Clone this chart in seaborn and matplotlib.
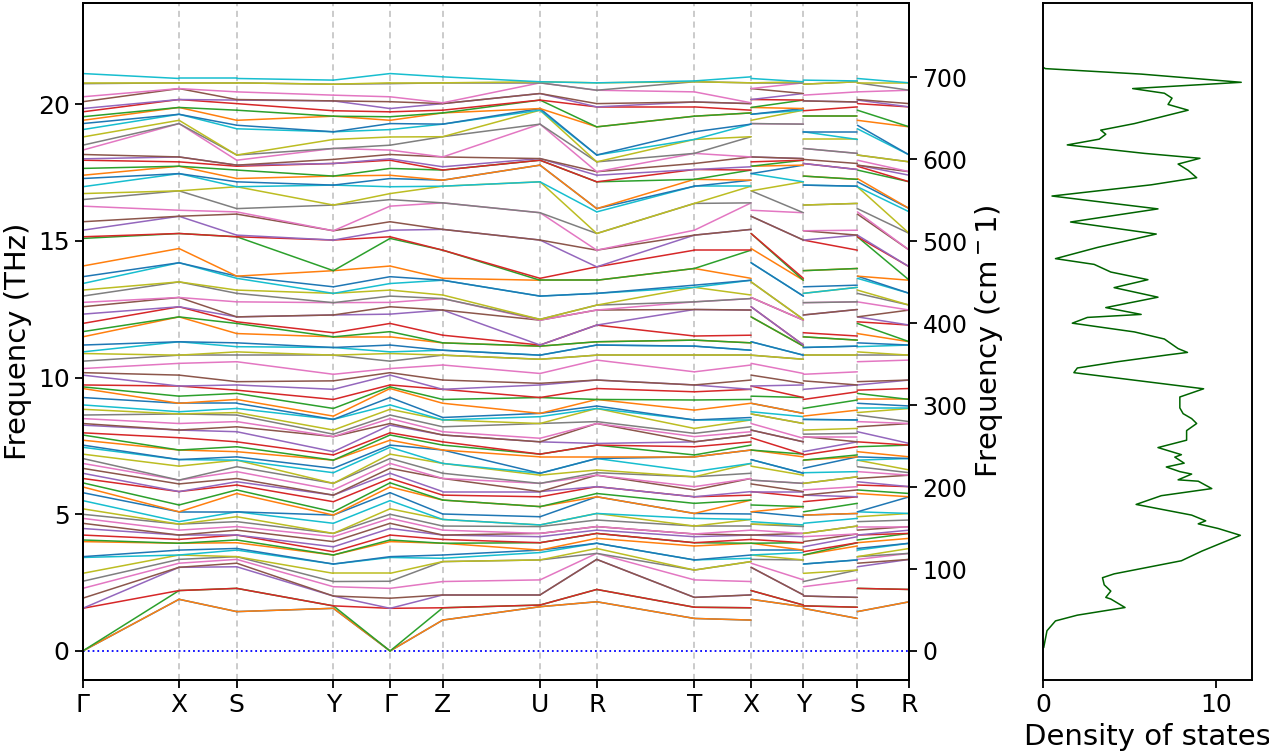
import numpy as np
import pandas as pd
import matplotlib
matplotlib.use('Agg')
import matplotlib.pyplot as plt
import seaborn as sns

# k-path (band structure) -----------------------------------------------------
kpath_labels = ['Γ', 'X', 'S', 'Y', 'Γ', 'Z', 'U', 'R', 'T', 'X', 'Y', 'S', 'R']
kpath_ticks = [0.0, 0.1165, 0.1863, 0.3032, 0.3718, 0.4355, 0.5532,
               0.6218, 0.7399, 0.8085, 0.8718, 0.9371, 1.0]
segments = [('Γ', 'X'), ('X', 'S'), ('S', 'Y'), ('Y', 'Γ'), ('Γ', 'Z'), ('Z', 'U'),
            ('U', 'R'), ('R', 'T'), ('T', 'Z'), ('X', 'U'), ('Y', 'T'), ('S', 'R')]

# phonon frequencies (THz) at the high-symmetry points, band by band
freq_G = [0, 0, 0, 1.56, 1.56, 1.93, 2.29, 2.55, 2.84, 3.42,
          3.45, 4.0, 4.06, 4.24, 4.48, 4.67, 4.85, 5.0, 5.2, 5.5,
          5.79, 6.0, 6.15, 6.31, 6.5, 6.68, 6.86, 7.04, 7.2, 7.45,
          7.53, 7.71, 7.9, 7.98, 8.26, 8.32, 8.5, 8.63, 8.84, 9.0,
          9.27, 9.6, 9.66, 9.73, 10.09, 10.18, 10.33, 10.6, 10.88, 10.94,
          11.19, 11.49, 11.68, 11.98, 12.32, 12.59, 12.75, 12.98, 13.2, 13.44,
          13.69, 14.08, 15.09, 15.15, 15.39, 15.7, 16.27, 16.51, 16.73, 16.98,
          17.28, 17.4, 17.65, 17.95, 18.0, 18.16, 18.32, 18.5, 18.8, 19.07,
          19.29, 19.41, 19.54, 19.72, 19.84, 20.09, 20.27, 20.75, 20.78, 21.12]
freq_X = [1.89, 1.89, 2.21, 2.21, 3.06, 3.06, 3.21, 3.35, 3.51, 3.51,
          3.69, 3.94, 3.94, 4.08, 4.24, 4.24, 4.42, 4.64, 4.64, 4.73,
          5.09, 5.09, 5.34, 5.83, 5.83, 6.11, 6.25, 6.25, 6.76, 7.0,
          7.0, 7.35, 7.35, 7.8, 8.08, 8.08, 8.32, 8.67, 8.67, 8.75,
          9.06, 9.06, 9.32, 9.69, 9.69, 10.09, 10.52, 10.82, 10.82, 11.31,
          11.31, 12.22, 12.22, 12.59, 12.59, 12.93, 12.93, 13.5, 13.5, 14.2,
          14.2, 14.72, 15.27, 15.27, 15.9, 15.9, 16.12, 16.83, 16.83, 17.46,
          17.46, 17.73, 17.73, 17.89, 18.07, 18.07, 19.29, 19.29, 19.41, 19.63,
          19.63, 19.88, 19.88, 20.17, 20.17, 20.57, 20.57, 20.78, 20.78, 20.94]
freq_S = [1.44, 1.44, 2.29, 2.29, 3.08, 3.21, 3.35, 3.45, 3.45, 3.69,
          3.75, 3.96, 4.06, 4.24, 4.24, 4.42, 4.55, 4.73, 4.91, 5.09,
          5.09, 5.76, 5.89, 6.07, 6.19, 6.31, 6.56, 6.74, 6.98, 6.98,
          7.1, 7.29, 7.47, 7.65, 8.02, 8.2, 8.39, 8.63, 8.72, 8.87,
          9.06, 9.2, 9.42, 9.54, 9.73, 9.85, 10.58, 10.82, 10.94, 11.13,
          11.27, 11.61, 11.98, 12.04, 12.22, 12.22, 12.77, 13.08, 13.2, 13.63,
          13.71, 13.71, 15.15, 15.15, 15.21, 15.98, 16.06, 16.18, 16.98, 16.98,
          17.16, 17.28, 17.59, 17.73, 17.77, 17.77, 17.95, 18.14, 18.14, 19.1,
          19.23, 19.41, 19.78, 20.02, 20.15, 20.17, 20.45, 20.78, 20.78, 20.94]
freq_Y = [1.56, 1.56, 1.65, 1.65, 2.01, 2.01, 2.35, 2.54, 2.84, 3.18,
          3.18, 3.51, 3.51, 3.63, 3.81, 4.0, 4.18, 4.3, 4.3, 4.67,
          4.97, 4.97, 5.09, 5.46, 5.7, 5.7, 5.89, 6.13, 6.13, 6.52,
          6.68, 6.98, 6.98, 7.17, 7.29, 7.84, 7.84, 7.93, 8.08, 8.47,
          8.47, 8.59, 8.87, 9.2, 9.57, 9.88, 10.12, 10.82, 10.82, 11.1,
          11.1, 11.49, 11.49, 11.64, 12.29, 12.29, 12.74, 12.74, 13.08, 13.08,
          13.32, 13.91, 13.91, 15.03, 15.03, 15.37, 15.37, 16.31, 16.31, 17.04,
          17.04, 17.37, 17.37, 17.83, 17.83, 17.98, 18.38, 18.38, 18.71, 18.99,
          18.99, 19.56, 19.56, 19.76, 20.12, 20.12, 20.33, 20.73, 20.73, 20.88]
freq_Z = [1.13, 1.13, 1.58, 1.58, 2.05, 2.05, 2.54, 3.27, 3.27, 3.39,
          3.51, 3.94, 3.94, 4.08, 4.24, 4.24, 4.42, 4.57, 4.81, 4.81,
          5.01, 5.52, 5.52, 5.7, 5.83, 6.31, 6.31, 6.5, 6.86, 6.86,
          7.35, 7.35, 7.53, 7.65, 7.9, 7.9, 8.02, 8.2, 8.45, 8.45,
          8.54, 9.06, 9.2, 9.57, 9.57, 9.91, 10.46, 10.82, 10.82, 11.0,
          11.0, 11.27, 11.27, 11.55, 12.47, 12.47, 12.89, 12.89, 13.02, 13.56,
          13.56, 13.63, 14.66, 14.66, 15.42, 15.42, 16.39, 16.39, 17.0, 17.0,
          17.22, 17.22, 17.59, 17.59, 17.71, 18.07, 18.07, 18.81, 18.81, 19.27,
          19.27, 19.68, 19.68, 19.78, 20.02, 20.02, 20.05, 20.78, 20.78, 21.0]
freq_U = [1.62, 1.62, 1.68, 1.68, 2.05, 2.05, 2.6, 3.33, 3.33, 3.6,
          3.69, 3.69, 3.96, 3.96, 4.18, 4.3, 4.3, 4.55, 4.61, 4.61,
          4.91, 5.28, 5.28, 5.64, 5.83, 5.83, 6.13, 6.13, 6.43, 6.5,
          6.5, 7.1, 7.2, 7.2, 7.65, 7.65, 7.78, 8.32, 8.32, 8.57,
          8.69, 8.69, 9.27, 9.27, 9.73, 9.79, 10.15, 10.67, 10.67, 10.82,
          10.82, 11.15, 11.15, 11.19, 11.19, 12.1, 12.1, 12.13, 12.13, 12.98,
          12.98, 13.56, 13.56, 13.63, 15.03, 15.03, 16.03, 16.03, 17.16, 17.16,
          17.77, 17.77, 17.95, 17.95, 18.01, 18.01, 19.27, 19.27, 19.78, 19.78,
          19.84, 19.84, 20.15, 20.15, 20.39, 20.39, 20.78, 20.78, 20.82, 20.82]
freq_R = [1.8, 1.8, 2.25, 2.25, 3.35, 3.35, 3.57, 3.57, 3.75, 3.94,
          3.94, 4.12, 4.3, 4.3, 4.42, 4.55, 4.55, 4.79, 5.03, 5.03,
          5.64, 5.64, 5.76, 6.01, 6.01, 6.43, 6.43, 6.52, 6.62, 7.04,
          7.04, 7.1, 7.53, 7.53, 7.59, 8.32, 8.32, 8.39, 8.87, 8.87,
          8.96, 9.2, 9.2, 9.6, 9.91, 9.91, 10.64, 10.82, 10.82, 11.19,
          11.19, 11.31, 11.31, 11.92, 11.92, 12.47, 12.47, 12.65, 12.65, 13.08,
          13.08, 13.56, 13.56, 14.05, 14.05, 14.66, 14.66, 15.27, 15.27, 16.06,
          16.18, 16.18, 17.16, 17.16, 17.4, 17.53, 17.53, 17.89, 17.89, 18.14,
          18.14, 19.17, 19.17, 19.9, 19.9, 20.02, 20.51, 20.51, 20.78, 20.78]
freq_T = [1.19, 1.19, 1.6, 1.6, 1.96, 1.96, 2.6, 2.96, 2.96, 3.33,
          3.33, 3.84, 3.96, 3.96, 4.18, 4.28, 4.28, 4.57, 4.57, 4.85,
          5.03, 5.03, 5.4, 5.64, 5.64, 5.89, 6.01, 6.37, 6.37, 6.56,
          7.1, 7.1, 7.17, 7.47, 7.65, 7.65, 7.84, 7.96, 8.14, 8.45,
          8.45, 8.81, 9.18, 9.48, 9.73, 9.73, 10.21, 10.82, 10.82, 11.15,
          11.15, 11.37, 11.37, 11.52, 12.49, 12.49, 12.77, 12.77, 13.3, 13.3,
          13.38, 13.99, 13.99, 14.66, 15.21, 15.21, 15.39, 16.37, 16.37, 17.0,
          17.0, 17.25, 17.25, 17.61, 17.61, 17.83, 18.2, 18.2, 18.71, 18.71,
          18.99, 19.56, 19.56, 19.9, 20.08, 20.08, 20.45, 20.82, 20.82, 20.85]

# density of states (THz, states/THz)
dos_freq = [0.12, 0.74, 1.10, 1.31, 1.59, 1.90, 1.96, 2.19, 2.42, 2.68, 2.82, 3.30, 3.65, 3.95,
            4.23, 4.48, 4.65, 4.76, 4.97, 5.36, 5.68, 5.94, 6.21, 6.26, 6.47, 6.56, 6.73, 6.87,
            7.09, 7.18, 7.44, 7.71, 8.06, 8.32, 8.50, 8.68, 8.89, 9.29, 9.59, 10.18, 10.35, 10.58,
            10.83, 10.92, 11.06, 11.41, 11.67, 11.99, 12.20, 12.31, 12.56, 12.94, 13.29, 13.58,
            13.86, 14.14, 14.35, 14.76, 15.25, 15.69, 16.17, 16.64, 17.05, 17.31, 17.58, 17.81,
            18.02, 18.2, 18.51, 18.72, 18.90, 19.05, 19.29, 19.78, 19.99, 20.22, 20.40, 20.57,
            20.80, 21.10, 21.30, 21.35]
dos_vals = [0.04, 0.23, 0.72, 1.98, 4.73, 3.91, 3.62, 3.91, 3.53, 3.43, 4.1, 7.98, 9.15, 10.3,
            11.38, 10.1, 8.95, 9.38, 8.57, 5.37, 6.82, 9.73, 8.95, 7.79, 8.57, 7.89, 7.11, 8.14,
            7.6, 7.98, 6.63, 8.28, 8.28, 8.86, 8.57, 8.08, 7.89, 7.89, 9.26, 1.78, 1.98, 4.3,
            7.2, 8.33, 7.79, 7.0, 5.27, 1.69, 2.56, 5.66, 3.62, 6.63, 4.1, 6.05,
            3.91, 2.95, 0.72, 3.14, 6.53, 1.59, 6.63, 0.52, 6.24, 8.86, 8.37, 7.79,
            9.05, 5.85, 1.40, 3.24, 3.62, 3.33, 5.27, 8.37, 7.21, 7.44, 7.0, 5.17,
            11.43, 5.66, 0.14, 0.0]

THZ_TO_CM = 33.356
ylim = (-1.06, 23.7)

point_freqs = {'Γ': freq_G, 'X': freq_X, 'S': freq_S, 'Y': freq_Y,
               'Z': freq_Z, 'U': freq_U, 'R': freq_R, 'T': freq_T}
nbands = len(freq_G)

# long table: one short line per band and per path segment
rows = []
for i, (a, b) in enumerate(segments):
    k0, k1 = kpath_ticks[i], kpath_ticks[i + 1]
    for j in range(nbands):
        line_id = i * nbands + j
        rows.append((k0, point_freqs[a][j], f'b{j:02d}', line_id))
        rows.append((k1, point_freqs[b][j], f'b{j:02d}', line_id))
bands = pd.DataFrame(rows, columns=['k', 'freq', 'band', 'line'])

tab10 = sns.color_palette('tab10', 10)
band_order = [f'b{j:02d}' for j in range(nbands)]
band_palette = {name: tab10[j % 10] for j, name in enumerate(band_order)}

sns.set_style('ticks')
plt.rcParams['font.family'] = ['DejaVu Sans']
plt.rcParams['axes.linewidth'] = 1.4
plt.rcParams['axes.edgecolor'] = 'black'
plt.rcParams['text.color'] = 'black'
plt.rcParams['axes.labelcolor'] = 'black'
plt.rcParams['xtick.color'] = 'black'
plt.rcParams['ytick.color'] = 'black'

fig = plt.figure(figsize=(12.69, 7.53), dpi=100)
ax = fig.add_axes([0.0652, 0.097, 0.6514, 0.899])
ax_dos = fig.add_axes([0.8219, 0.097, 0.1647, 0.899])

for t in kpath_ticks[1:-1]:
    ax.axvline(t, color='#bdbdbd', ls=(0, (4, 3)), lw=1.1, zorder=0)
ax.axhline(0, color='blue', ls=':', lw=1.3, zorder=0)

sns.lineplot(data=bands, x='k', y='freq', hue='band', hue_order=band_order,
             palette=band_palette, units='line', estimator=None, sort=False,
             legend=False, lw=1.1, ax=ax)

ax.set_xlim(kpath_ticks[0], kpath_ticks[-1])
ax.set_ylim(*ylim)
ax.set_xticks(kpath_ticks)
ax.set_xticklabels(kpath_labels)
ax.set_yticks([0, 5, 10, 15, 20])
ax.set_xlabel('')
ax.set_ylabel('Frequency (THz)', fontsize=21)
ax.tick_params(labelsize=18, length=6, width=1.3)

# second frequency axis in cm^-1
ax_cm = ax.twinx()
ax_cm.set_ylim(ylim[0] * THZ_TO_CM, ylim[1] * THZ_TO_CM)
ax_cm.set_yticks(range(0, 701, 100))
ax_cm.set_ylabel('Frequency (cm$^-$1)', fontsize=21)
ax_cm.tick_params(labelsize=17, length=6, width=1.3)

# density of states
sns.lineplot(x=dos_vals, y=dos_freq, sort=False, estimator=None,
             color='darkgreen', lw=1.1, ax=ax_dos)
ax_dos.set_ylim(*ylim)
ax_dos.set_xlim(0, 12.05)
ax_dos.set_xticks([0, 10])
ax_dos.set_yticks([])
ax_dos.set_xlabel('Density of states', fontsize=21)
ax_dos.tick_params(labelsize=18, length=6, width=1.3)

fig.savefig('out.png', dpi=100)
